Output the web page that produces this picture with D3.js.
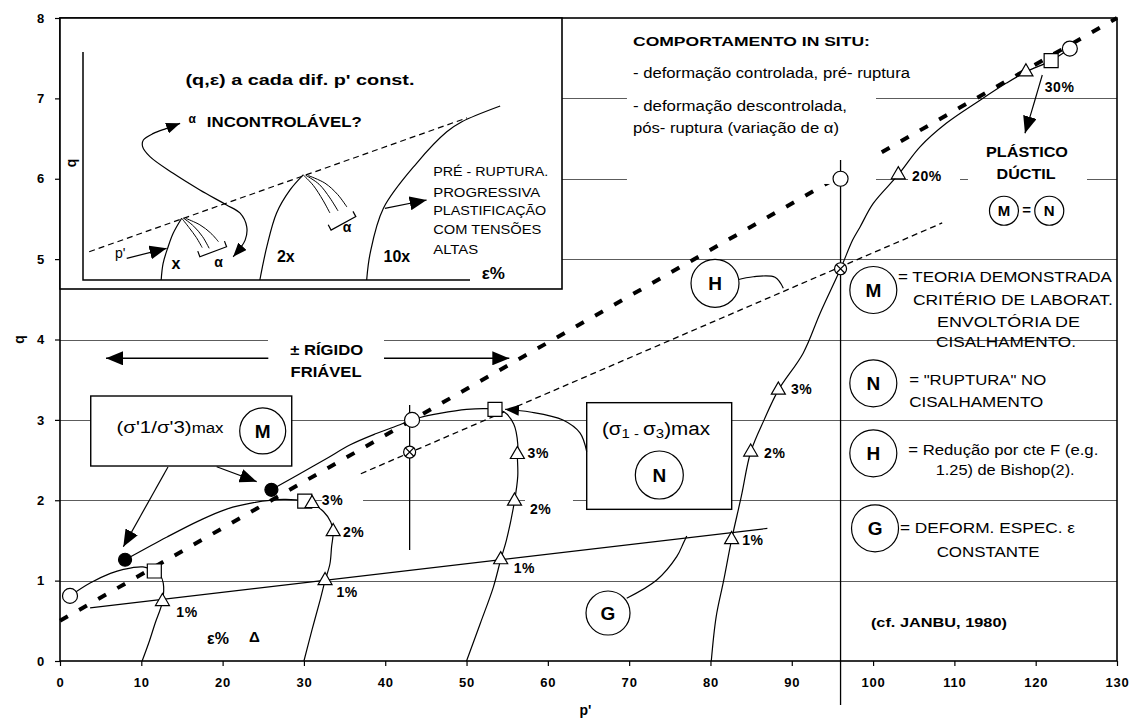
<!DOCTYPE html>
<html>
<head>
<meta charset="utf-8">
<script src="https://cdn.jsdelivr.net/npm/d3@7"></script>
<style>
  body { margin: 0; background: #fff; }
  svg { display: block; font-family: "Liberation Sans", Arial, sans-serif; }
</style>
</head>
<body>
<div id="chart"></div>
<script>
// ---- axes ----
const xTicks = d3.range(0, 131, 10);
const yTicks = d3.range(0, 9, 1);
const gridQ = [1, 2, 3, 4, 5, 6, 7];

// ---- envelopes (p', q) ----
const envelopeM = [[0, 0.5], [130, 8.0]];        // thick dashed
const envelopeH = [[37, 2.33], [108.5, 5.45]];   // thin dashed, reduced by F
const lineG = [[3.7, 0.66], [87, 1.65]];         // constant strain 1%

// ---- stress paths ----
const path1 = [[10.1, 0], [10.9, 0.22], [11.7, 0.47], [12.6, 0.74], [12.7, 0.97], [12.3, 1.07],
  [11.6, 1.12], [10.2, 1.17], [7.8, 1.14], [6.2, 1.09], [3.7, 0.97], [1.23, 0.81]];
const path2 = [[30.0, 0], [31.0, 0.39], [32.0, 0.76], [32.6, 1.0], [33.2, 1.21], [33.4, 1.42],
  [33.6, 1.61], [33.3, 1.73], [32.4, 1.86], [31.0, 1.96], [30.1, 1.99], [27.5, 2.01], [23.8, 1.97],
  [20.5, 1.89], [17.2, 1.75], [13.1, 1.54], [10.2, 1.38], [8.0, 1.26]];
const path3 = [[50.0, 0], [51.7, 0.47], [53.3, 0.92], [54.2, 1.26], [54.9, 1.5], [55.9, 1.99],
  [56.3, 2.3], [56.25, 2.57], [56.3, 2.7], [55.8, 2.95], [54.6, 3.1], [53.5, 3.13], [52.5, 3.14],
  [50, 3.13], [46.7, 3.08], [44.3, 3.03], [43.3, 3.0], [41.8, 2.94], [38.9, 2.83], [35.7, 2.69],
  [32.8, 2.52], [29.5, 2.33], [26.7, 2.17], [26.0, 2.13]];
const path4 = [[80.1, 0], [80.7, 0.55], [81.6, 0.99], [82.6, 1.51], [83.8, 2.05], [84.95, 2.6],
  [86.6, 3.0], [88.35, 3.37], [91.4, 3.83], [93.5, 4.33], [96, 4.88], [97.5, 5.24], [98.4, 5.40],
  [100, 5.69], [103.1, 6.05], [105.8, 6.4], [109, 6.69], [113.2, 6.98], [116.4, 7.19],
  [118.8, 7.33], [121.9, 7.47], [124.2, 7.62]];

// ---- markers ----
const openCircles = [[1.23, 0.81], [43.3, 3.0], [96, 6.0], [124.2, 7.62]];
const filledCircles = [[8.0, 1.26], [26.0, 2.13]];
const squares = [[11.6, 1.12], [30.1, 1.99], [53.5, 3.13], [121.9, 7.47]];
const triangles = [[12.6, 0.74], [32.6, 1.0], [33.6, 1.61], [31.0, 1.96], [54.2, 1.26], [55.9, 1.99],
  [56.25, 2.57], [82.6, 1.51], [84.95, 2.6], [88.35, 3.37], [103.1, 6.05], [118.8, 7.33]];
const crossed = [[43.0, 2.6], [96, 4.88]];

// strain labels: text, p', q
const strainLabels = [["1%", 14.3, 0.61], ["3%", 32.2, 2.0], ["2%", 34.8, 1.6], ["1%", 34.0, 0.855],
  ["3%", 57.5, 2.59], ["2%", 57.8, 1.89], ["1%", 55.8, 1.153], ["1%", 83.9, 1.505],
  ["2%", 86.6, 2.59], ["3%", 89.9, 3.38], ["20%", 104.8, 6.03], ["30%", 121.1, 7.14]];

// ---- inset sketch (own 0..100 units) ----
const insetEnvelope = [[1.6, 12.4], [99.2, 71.1]];
const insetCurveX = [[20.2, 0], [20.7, 7.3], [22.0, 14.6], [23.3, 20.5], [25.5, 27.1]];
const insetCurve2x = [[45.7, 0], [47.5, 14.6], [50.0, 29.3], [53.5, 39.5], [56.9, 46.1]];
const insetCurve10x = [[73.3, 0], [74.2, 11.7], [77.6, 31.4], [86.2, 51.2], [94.0, 65.0], [97.9, 69.4], [107.8, 76.3]];
const insetFansX = [
  [[25.5, 27.1], [27.4, 23.0], [29.3, 18.6], [30.8, 14.2]],
  [[26.0, 27.1], [28.6, 23.6], [30.9, 19.0], [32.6, 13.9]],
  [[26.6, 27.0], [30.2, 24.2], [33.0, 20.6], [35.0, 16.8]]];
const insetFans2x = [
  [[56.9, 46.1], [59.5, 41.5], [62.0, 35.0], [63.8, 29.4]],
  [[57.5, 46.0], [61.0, 42.0], [63.8, 36.0], [65.9, 30.3]],
  [[58.2, 45.8], [62.5, 42.5], [65.8, 37.5], [68.2, 32.0]]];
const insetBrackets = [[[30.2, 10.2], [37.1, 14.6]], [[64.1, 21.9], [70.5, 27.8]]];
const insetAlphaArrow = [[38.8, 10.2], [41.9, 17.5], [42.3, 23.4], [40.6, 29.3], [37.1, 32.9], [30.2, 39.5],
  [23.3, 46.8], [17.3, 54.1], [15.4, 58.5], [15.6, 61.4], [18.2, 64.3], [21.6, 66.5], [25.1, 68.7]];
const insetArrows = [[[11.3, 9.5], [21.6, 13.9]], [[78.0, 31.4], [88.8, 35.1]]];

// ================= drawing =================
const W = 1135, H = 724;
const x = d3.scaleLinear().domain([0, 130]).range([60, 1117]);
const y = d3.scaleLinear().domain([0, 8]).range([661, 18]);

const svg = d3.select("#chart").append("svg").attr("width", W).attr("height", H);
const defs = svg.append("defs");

function addArrow(id, len, wid) {
  defs.append("marker").attr("id", id)
    .attr("viewBox", `0 0 ${len} ${wid}`)
    .attr("markerUnits", "userSpaceOnUse")
    .attr("markerWidth", len).attr("markerHeight", wid)
    .attr("refX", len).attr("refY", wid / 2)
    .attr("orient", "auto-start-reverse")
    .append("path").attr("d", `M0,0L${len},${wid / 2}L0,${wid}Z`).attr("fill", "#000");
}
addArrow("ah", 14, 11);
addArrow("ahBig", 17, 14);

const line = d3.line().x(d => x(d[0])).y(d => y(d[1]));
const curve = d3.line().x(d => x(d[0])).y(d => y(d[1])).curve(d3.curveCatmullRom.alpha(0.5));

// gridlines
svg.append("g").selectAll("line").data(gridQ).join("line")
  .attr("x1", x(0)).attr("x2", x(130))
  .attr("y1", d => Math.round(y(d)) + 0.5).attr("y2", d => Math.round(y(d)) + 0.5)
  .attr("stroke", "#5c5c5c").attr("stroke-width", 1);

// white text backgrounds that break the gridlines [p0, p1, q0, q1]
const masks = [[25.58, 39.85, 3.42, 4.12], [111.67, 126.31, 5.36, 6.48], [104.3, 110.69, 5.86, 6.13],
  [32.2, 37.27, 1.9, 2.13], [57.19, 63.09, 1.85, 2.10]];
function maskRect(g, m) {
  g.append("rect").attr("x", x(m[0])).attr("y", y(m[3]))
    .attr("width", x(m[1]) - x(m[0])).attr("height", y(m[2]) - y(m[3])).attr("fill", "#fff");
}
const maskG = svg.append("g");
masks.forEach(m => maskRect(maskG, m));

// series lines
const series = svg.append("g").attr("fill", "none").attr("stroke", "#000");
series.append("path").attr("d", line(envelopeM)).attr("stroke-width", 4).attr("stroke-dasharray", "9,13");
series.append("path").attr("d", line(envelopeH)).attr("stroke-width", 1.3).attr("stroke-dasharray", "6,4");
series.append("path").attr("d", line(lineG)).attr("stroke-width", 1.2);
[path1, path2, path3, path4].forEach(p => {
  series.append("path").attr("d", curve(p)).attr("stroke-width", 1.2);
});

// text box top right (covers the dashed line)
maskRect(svg.append("g"), [69.73, 100.36, 5.935, 7.95]);

// framed boxes
const frames = [[3.78, 28.5, 2.426, 3.297], [64.78, 82.61, 1.887, 3.214]];
svg.append("g").selectAll("rect").data(frames).join("rect")
  .attr("x", d => x(d[0])).attr("y", d => y(d[3]))
  .attr("width", d => x(d[1]) - x(d[0])).attr("height", d => y(d[2]) - y(d[3]))
  .attr("fill", "#fff").attr("stroke", "#000").attr("stroke-width", 1.4);

// vertical reference lines
const vlines = [[96, -0.547, 6.233], [43, 1.381, 3.185]];
svg.append("g").selectAll("line").data(vlines).join("line")
  .attr("x1", d => x(d[0])).attr("x2", d => x(d[0]))
  .attr("y1", d => y(d[1])).attr("y2", d => y(d[2]))
  .attr("stroke", "#000").attr("stroke-width", 1.3);

// leaders and arrows
const ann = svg.append("g").attr("fill", "none").attr("stroke", "#000").attr("stroke-width", 1.2);
const leaderH = [[83.23, 4.74], [85.27, 4.781], [87.94, 4.774], [88.96, 4.637]];
const leaderG = [[69.7, 0.78], [73.39, 1.007], [75.85, 1.298], [76.66, 1.464], [77.08, 1.555]];
ann.append("path").attr("d", curve(leaderH));
ann.append("path").attr("d", curve(leaderG));
const arrowsSmall = [
  [[13.28, 2.414], [7.79, 1.422]],
  [[19.27, 2.417], [24.19, 2.231]]];
arrowsSmall.forEach(a => ann.append("path").attr("d", line(a)).attr("marker-end", "url(#ahBig)"));
ann.append("path").attr("d", curve([[64.78, 2.604], [63.95, 2.837], [61.86, 2.998], [57.81, 3.098], [54.73, 3.132]]))
  .attr("marker-end", "url(#ah)");
ann.append("path").attr("d", curve([[120.81, 7.291], [119.91, 6.98], [119.3, 6.772], [118.68, 6.566]]))
  .attr("marker-end", "url(#ahBig)");
ann.append("path").attr("d", line([[25.62, 3.766], [5.66, 3.766]])).attr("stroke-width", 1.6).attr("marker-end", "url(#ahBig)");
ann.append("path").attr("d", line([[39.85, 3.766], [55.26, 3.766]])).attr("stroke-width", 1.6).attr("marker-end", "url(#ahBig)");

// markers
const mk = svg.append("g").attr("stroke", "#000").attr("stroke-width", 1.2);
mk.selectAll(".oc").data(openCircles).join("circle")
  .attr("cx", d => x(d[0])).attr("cy", d => y(d[1])).attr("r", 7.5).attr("fill", "#fff");
mk.selectAll(".fc").data(filledCircles).join("circle")
  .attr("cx", d => x(d[0])).attr("cy", d => y(d[1])).attr("r", 6.5).attr("fill", "#000");
mk.selectAll(".sq").data(squares).join("path")
  .attr("d", d3.symbol(d3.symbolSquare, 196))
  .attr("transform", d => `translate(${x(d[0])},${y(d[1])})`).attr("fill", "#fff");
mk.selectAll(".tr").data(triangles).join("path")
  .attr("d", d3.symbol(d3.symbolTriangle, 85))
  .attr("transform", d => `translate(${x(d[0])},${y(d[1])})`).attr("fill", "#fff");
crossed.forEach(d => {
  const cx = x(d[0]), cy = y(d[1]);
  mk.append("circle").attr("cx", cx).attr("cy", cy).attr("r", 6).attr("fill", "#fff");
  mk.append("path").attr("fill", "none")
    .attr("d", `M${cx - 4.2},${cy - 4.2}L${cx + 4.2},${cy + 4.2}M${cx - 4.2},${cy + 4.2}L${cx + 4.2},${cy - 4.2}`);
});

// strain labels
svg.append("g").selectAll("text").data(strainLabels).join("text")
  .attr("x", d => x(d[1])).attr("y", d => y(d[2])).attr("dy", "0.35em")
  .attr("font-size", 14).attr("font-weight", "bold").attr("letter-spacing", 0.6).text(d => d[0]);

// letter circles: letter, p', q, r
const letterCircles = [["M", 24.93, 2.862, 23], ["N", 73.71, 2.314, 24], ["H", 80.56, 4.699, 24],
  ["G", 67.4, 0.597, 22], ["M", 100.03, 4.616, 23.5], ["N", 100.03, 3.455, 23.5],
  ["H", 100.03, 2.584, 23.5], ["G", 100.24, 1.651, 23.5]];
const lc = svg.append("g");
lc.selectAll("circle").data(letterCircles).join("circle")
  .attr("cx", d => x(d[1])).attr("cy", d => y(d[2])).attr("r", d => d[3])
  .attr("fill", "#fff").attr("stroke", "#000").attr("stroke-width", 1.2);
lc.selectAll("text").data(letterCircles).join("text")
  .attr("x", d => x(d[1])).attr("y", d => y(d[2])).attr("dy", "0.36em")
  .attr("text-anchor", "middle").attr("font-size", 19).attr("font-weight", "bold").text(d => d[0]);

const small = [["M", 116.1, 5.602], ["N", 121.67, 5.602]];
lc.selectAll(".sm").data(small).join("circle")
  .attr("cx", d => x(d[1])).attr("cy", d => y(d[2])).attr("r", 14.5)
  .attr("fill", "#fff").attr("stroke", "#000").attr("stroke-width", 1.2);
lc.selectAll(".smt").data(small).join("text")
  .attr("x", d => x(d[1])).attr("y", d => y(d[2])).attr("dy", "0.36em")
  .attr("text-anchor", "middle").attr("font-size", 15).attr("font-weight", "bold").text(d => d[0]);

// notes: text, p', q, anchor, size, weight, width
const notes = [
  ["COMPORTAMENTO IN SITU:", 70.47, 7.714, "start", 13, "bold", 237],
  ["- deformação controlada, pré- ruptura", 70.47, 7.312, "start", 14, "normal", 277],
  ["- deformação descontrolada,", 70.47, 6.905, "start", 14, "normal", 214],
  ["pós- ruptura (variação de α)", 70.47, 6.628, "start", 14, "normal", 206],
  ["± RÍGIDO", 32.8, 3.869, "middle", 15, "bold", 73],
  ["FRIÁVEL", 32.72, 3.6, "middle", 15, "bold", 71],
  ["PLÁSTICO", 118.93, 6.337, "middle", 15, "bold", 82],
  ["DÚCTIL", 118.81, 6.068, "middle", 15, "bold", 59],
  ["=", 118.9, 5.61, "middle", 15, "bold", null],
  ["(cf. JANBU, 1980)", 108.1, 0.485, "middle", 13, "bold", 136],
  ["ε%", 19.43, 0.286, "middle", 16, "bold", null],
  ["Δ", 23.9, 0.299, "middle", 15, "bold", null],
  ["= TEORIA DEMONSTRADA", 103.06, 4.781, "start", 14, "normal", 214],
  ["CRITÉRIO DE LABORAT.", 104.9, 4.491, "start", 14, "normal", 200],
  ["ENVOLTÓRIA DE", 107.86, 4.222, "start", 14, "normal", 143],
  ["CISALHAMENTO.", 107.74, 3.973, "start", 14, "normal", 140],
  ["= \"RUPTURA\" NO", 104.45, 3.496, "start", 14, "normal", 137],
  ["CISALHAMENTO", 104.45, 3.226, "start", 14, "normal", 134],
  ["= Redução por cte F (e.g.", 104.33, 2.625, "start", 14, "normal", 190],
  ["1.25) de Bishop(2).", 107.7, 2.376, "start", 14, "normal", 139],
  ["= DEFORM. ESPEC. ε", 103.31, 1.651, "start", 14, "normal", 175],
  ["CONSTANTE", 107.82, 1.36, "start", 14, "normal", 103]
];
const nt = svg.append("g").selectAll("text").data(notes).join("text")
  .attr("x", d => x(d[1])).attr("y", d => y(d[2])).attr("dy", "0.35em")
  .attr("text-anchor", d => d[3]).attr("font-size", d => d[4]).attr("font-weight", d => d[5])
  .text(d => d[0]);
nt.filter(d => d[6]).attr("textLength", d => d[6]).attr("lengthAdjust", "spacingAndGlyphs");

// box titles with subscripts
const t1 = svg.append("text").attr("x", x(13.53)).attr("y", y(2.915)).attr("dy", "0.35em")
  .attr("text-anchor", "middle").attr("font-size", 17).attr("textLength", 107).attr("lengthAdjust", "spacingAndGlyphs");
t1.append("tspan").text("(σ'1/σ'3)");
t1.append("tspan").attr("font-size", 14).text("max");
const t2 = svg.append("text").attr("x", x(73.3)).attr("y", y(2.895)).attr("dy", "0.35em")
  .attr("text-anchor", "middle").attr("font-size", 18).attr("textLength", 108).attr("lengthAdjust", "spacingAndGlyphs");
t2.append("tspan").text("(σ");
t2.append("tspan").attr("font-size", 13).attr("dy", 3).text("1 - ");
t2.append("tspan").attr("dy", -3).text("σ");
t2.append("tspan").attr("font-size", 13).attr("dy", 3).text("3");
t2.append("tspan").attr("dy", -3).text(")max");

// axes
const xAxis = svg.append("g").attr("transform", `translate(0,${y(0)})`)
  .call(d3.axisBottom(x).tickValues(xTicks).tickSize(5).tickPadding(12));
const yAxis = svg.append("g").attr("transform", `translate(${x(0)},0)`)
  .call(d3.axisLeft(y).tickValues(yTicks).tickSize(5).tickPadding(10));
[xAxis, yAxis].forEach(a => {
  a.select(".domain").remove();
  a.selectAll("line").attr("stroke", "#000").attr("stroke-width", 1.2);
  a.selectAll("text").attr("font-size", 13).attr("font-weight", "bold").attr("letter-spacing", 0.8)
    .attr("font-family", "'Liberation Sans', Arial, sans-serif").attr("fill", "#000");
});
svg.append("rect").attr("x", x(0)).attr("y", y(8)).attr("width", x(130) - x(0)).attr("height", y(0) - y(8))
  .attr("fill", "none").attr("stroke", "#000").attr("stroke-width", 1.6);
svg.append("text").attr("x", (x(0) + x(130)) / 2 - 3).attr("y", 715).attr("text-anchor", "middle")
  .attr("font-size", 14).attr("font-weight", "bold").text("p'");
svg.append("text").attr("transform", `translate(24,${(y(0) + y(8)) / 2}) rotate(-90)`)
  .attr("text-anchor", "middle").attr("font-size", 14).attr("font-weight", "bold").text("q");

// ================= inset =================
const inset = svg.append("g");
inset.append("rect").attr("x", 60).attr("y", 18).attr("width", 502).attr("height", 271)
  .attr("fill", "#fff").attr("stroke", "#000").attr("stroke-width", 1.6);
const ix = d3.scaleLinear().domain([0, 100]).range([83, 470]);
const iy = d3.scaleLinear().domain([0, 100]).range([280, 52]);
const iline = d3.line().x(d => ix(d[0])).y(d => iy(d[1]));
const icurve = d3.line().x(d => ix(d[0])).y(d => iy(d[1])).curve(d3.curveCatmullRom.alpha(0.5));
const ig = inset.append("g").attr("fill", "none").attr("stroke", "#000").attr("stroke-width", 1.2);
ig.append("path").attr("d", iline([[0, 100], [0, 0], [100, 0]])).attr("stroke-width", 1.5);
ig.append("path").attr("d", iline(insetEnvelope)).attr("stroke-dasharray", "6,4");
[insetCurveX, insetCurve2x, insetCurve10x].forEach(c => ig.append("path").attr("d", icurve(c)));
insetFansX.concat(insetFans2x).forEach(c => ig.append("path").attr("d", icurve(c)).attr("stroke-width", 1));
insetBrackets.forEach(b => {
  const x0 = ix(b[0][0]), y0 = iy(b[0][1]), x1 = ix(b[1][0]), y1 = iy(b[1][1]);
  const len = Math.hypot(x1 - x0, y1 - y0), nx = (y1 - y0) / len * 6, ny = -(x1 - x0) / len * 6;
  ig.append("path").attr("d", `M${x0 + nx},${y0 + ny}L${x0},${y0}L${x1},${y1}L${x1 + nx},${y1 + ny}`);
});
ig.append("path").attr("d", icurve(insetAlphaArrow))
  .attr("marker-start", "url(#ah)").attr("marker-end", "url(#ah)");
insetArrows.forEach(a => ig.append("path").attr("d", iline(a)).attr("marker-end", "url(#ahBig)"));

// inset labels: text, u, v, anchor, size, weight, width
const insetNotes = [
  ["(q,ε) a cada dif.  p' const.", 56.07, 87.7, "middle", 15, "bold", 229],
  ["α", 28.2, 70.6, "middle", 12, "bold", null],
  ["INCONTROLÁVEL?", 32.0, 69.4, "start", 14, "bold", 155],
  ["PRÉ - RUPTURA.", 90.5, 47.5, "start", 12, "normal", 115],
  ["PROGRESSIVA", 90.5, 38.3, "start", 12, "normal", 107],
  ["PLASTIFICAÇÃO", 90.5, 30.4, "start", 12, "normal", 113],
  ["COM TENSÕES", 90.5, 21.9, "start", 12, "normal", 108],
  ["ALTAS", 90.5, 13.2, "start", 12, "normal", 45],
  ["x", 24.0, 7.3, "middle", 16, "bold", null],
  ["2x", 52.4, 10.2, "middle", 16, "bold", null],
  ["10x", 81.1, 10.2, "middle", 16, "bold", null],
  ["ε%", 106.0, 2.9, "middle", 17, "bold", null],
  ["p'", 9.6, 11.7, "middle", 14, "normal", null],
  ["α", 35.0, 8.0, "middle", 14, "bold", null],
  ["α", 68.2, 23.4, "middle", 14, "bold", null]
];
const it = inset.append("g").selectAll("text").data(insetNotes).join("text")
  .attr("x", d => ix(d[1])).attr("y", d => iy(d[2])).attr("dy", "0.35em")
  .attr("text-anchor", d => d[3]).attr("font-size", d => d[4]).attr("font-weight", d => d[5])
  .text(d => d[0]);
it.filter(d => d[6]).attr("textLength", d => d[6]).attr("lengthAdjust", "spacingAndGlyphs");
inset.append("text").attr("transform", `translate(${ix(-3.1)},${iy(51.3)}) rotate(-90)`)
  .attr("text-anchor", "middle").attr("dy", "0.35em").attr("font-size", 14).attr("font-weight", "bold").text("q");
</script>
</body>
</html>
